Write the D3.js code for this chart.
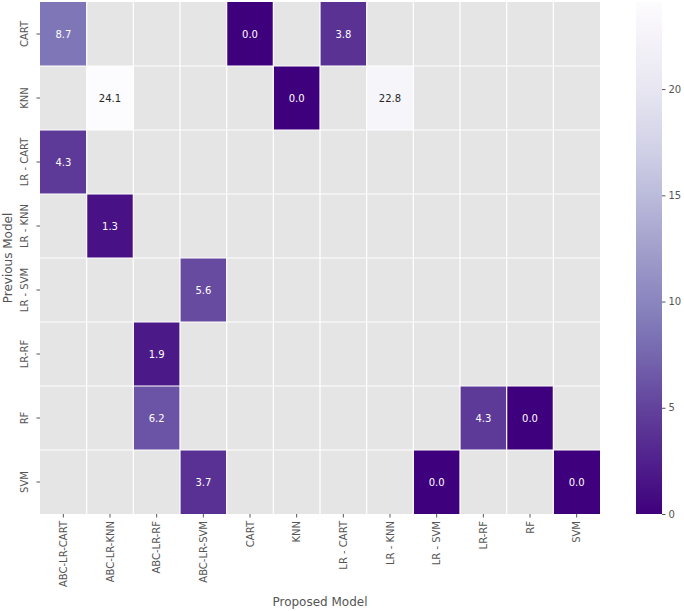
<!DOCTYPE html>
<html>
<head>
<meta charset="utf-8">
<script src="https://cdn.jsdelivr.net/npm/d3@7"></script>
<style>
  body { margin: 0; background: #fff; }
  text { font-family: "DejaVu Sans", sans-serif; }
</style>
</head>
<body>
<div id="chart"></div>
<script>
// categories
const rows = ["CART", "KNN", "LR - CART", "LR - KNN", "LR - SVM", "LR-RF", "RF", "SVM"];
const cols = ["ABC-LR-CART", "ABC-LR-KNN", "ABC-LR-RF", "ABC-LR-SVM", "CART", "KNN",
              "LR - CART", "LR - KNN", "LR - SVM", "LR-RF", "RF", "SVM"];
// values per (previous, proposed) pair, only the filled cells
const prevModel = ["CART", "CART", "CART", "KNN", "KNN", "KNN", "LR - CART", "LR - KNN",
                   "LR - SVM", "LR-RF", "RF", "RF", "RF", "SVM", "SVM", "SVM"];
const propModel = ["ABC-LR-CART", "CART", "LR - CART", "ABC-LR-KNN", "KNN", "LR - KNN",
                   "ABC-LR-CART", "ABC-LR-KNN", "ABC-LR-SVM", "ABC-LR-RF", "ABC-LR-RF",
                   "LR-RF", "RF", "ABC-LR-SVM", "LR - SVM", "SVM"];
const values = [8.7, 0.0, 3.8, 24.1, 0.0, 22.8, 4.3, 1.3, 5.6, 1.9, 6.2, 4.3, 0.0, 3.7, 0.0, 0.0];
const cbarTicks = [0, 5, 10, 15, 20];

const width = 684, height = 611;
const margin = { top: 2, left: 40, right: 84, bottom: 97 };
const innerW = width - margin.left - margin.right;
const innerH = height - margin.top - margin.bottom;

const data = values.map((v, i) => ({ r: prevModel[i], c: propModel[i], v: v }));
const vmax = d3.max(values);

const x = d3.scaleBand().domain(cols).range([0, innerW]);
const y = d3.scaleBand().domain(rows).range([0, innerH]);
const color = d3.scaleSequential(t => d3.interpolatePurples(1 - t)).domain([0, vmax]);

const svg = d3.select("#chart").append("svg")
  .attr("width", width).attr("height", height);

const g = svg.append("g").attr("transform", `translate(${margin.left},${margin.top})`);

// background for missing cells
g.append("rect").attr("width", innerW).attr("height", innerH).attr("fill", "#e5e5e5");

g.selectAll("rect.cell")
  .data(data)
  .join("rect")
  .attr("class", "cell")
  .attr("x", d => x(d.c))
  .attr("y", d => y(d.r))
  .attr("width", x.bandwidth())
  .attr("height", y.bandwidth())
  .attr("fill", d => color(d.v));

// white separators
g.selectAll("line.vsep")
  .data(cols.slice(1))
  .join("line")
  .attr("x1", d => x(d)).attr("x2", d => x(d))
  .attr("y1", 0).attr("y2", innerH)
  .attr("stroke", "#fff").attr("stroke-width", 1.2);
g.selectAll("line.hsep")
  .data(rows.slice(1))
  .join("line")
  .attr("y1", d => y(d)).attr("y2", d => y(d))
  .attr("x1", 0).attr("x2", innerW)
  .attr("stroke", "#fff").attr("stroke-width", 1.2);

// annotations
g.selectAll("text.annot")
  .data(data)
  .join("text")
  .attr("class", "annot")
  .attr("x", d => x(d.c) + x.bandwidth() / 2)
  .attr("y", d => y(d.r) + y.bandwidth() / 2)
  .attr("text-anchor", "middle")
  .attr("dominant-baseline", "central")
  .attr("font-size", 10)
  .attr("fill", d => (d.v / vmax > 0.6 ? "#262626" : "#fff"))
  .text(d => d.v.toFixed(1));

// x axis
const xAxis = g.append("g")
  .attr("transform", `translate(0,${innerH})`)
  .call(d3.axisBottom(x).tickSize(3.5).tickPadding(3.5));
xAxis.select(".domain").remove();
xAxis.selectAll("line").attr("stroke", "#555");
xAxis.selectAll("text")
  .attr("font-size", 10).attr("fill", "#555")
  .attr("transform", "rotate(-90)")
  .attr("text-anchor", "end")
  .attr("dominant-baseline", "central")
  .attr("x", -7).attr("y", 0).attr("dy", null);

// y axis
const yAxis = g.append("g")
  .call(d3.axisLeft(y).tickSize(3.5).tickPadding(3.5));
yAxis.select(".domain").remove();
yAxis.selectAll("line").attr("stroke", "#555");
yAxis.selectAll("text")
  .attr("font-size", 10).attr("fill", "#555")
  .attr("transform", "rotate(-90)")
  .attr("text-anchor", "middle")
  .attr("x", 0).attr("y", -12).attr("dy", null)
  .attr("dominant-baseline", "auto");

// axis labels
svg.append("text")
  .attr("x", margin.left + innerW / 2).attr("y", 606)
  .attr("text-anchor", "middle").attr("font-size", 12).attr("fill", "#555")
  .text("Proposed Model");
svg.append("text")
  .attr("transform", `translate(12,${margin.top + innerH / 2}) rotate(-90)`)
  .attr("text-anchor", "middle").attr("font-size", 12).attr("fill", "#555")
  .text("Previous Model");

// colorbar
const cbX = 636, cbW = 26;
const cbY = d3.scaleLinear().domain([0, vmax]).range([margin.top + innerH, margin.top]);
const defs = svg.append("defs");
const grad = defs.append("linearGradient").attr("id", "cbar")
  .attr("x1", 0).attr("y1", 1).attr("x2", 0).attr("y2", 0);
d3.range(0, 1.0001, 0.05).forEach(t => {
  grad.append("stop").attr("offset", t).attr("stop-color", color(t * vmax));
});
svg.append("rect")
  .attr("x", cbX).attr("y", cbY(vmax))
  .attr("width", cbW).attr("height", cbY(0) - cbY(vmax))
  .attr("fill", "url(#cbar)");
const cAxis = svg.append("g")
  .attr("transform", `translate(${cbX + cbW},0)`)
  .call(d3.axisRight(cbY).tickValues(cbarTicks).tickSize(3.5).tickPadding(3));
cAxis.select(".domain").remove();
cAxis.selectAll("line").attr("stroke", "#555");
cAxis.selectAll("text").attr("font-size", 10).attr("fill", "#555");
</script>
</body>
</html>
